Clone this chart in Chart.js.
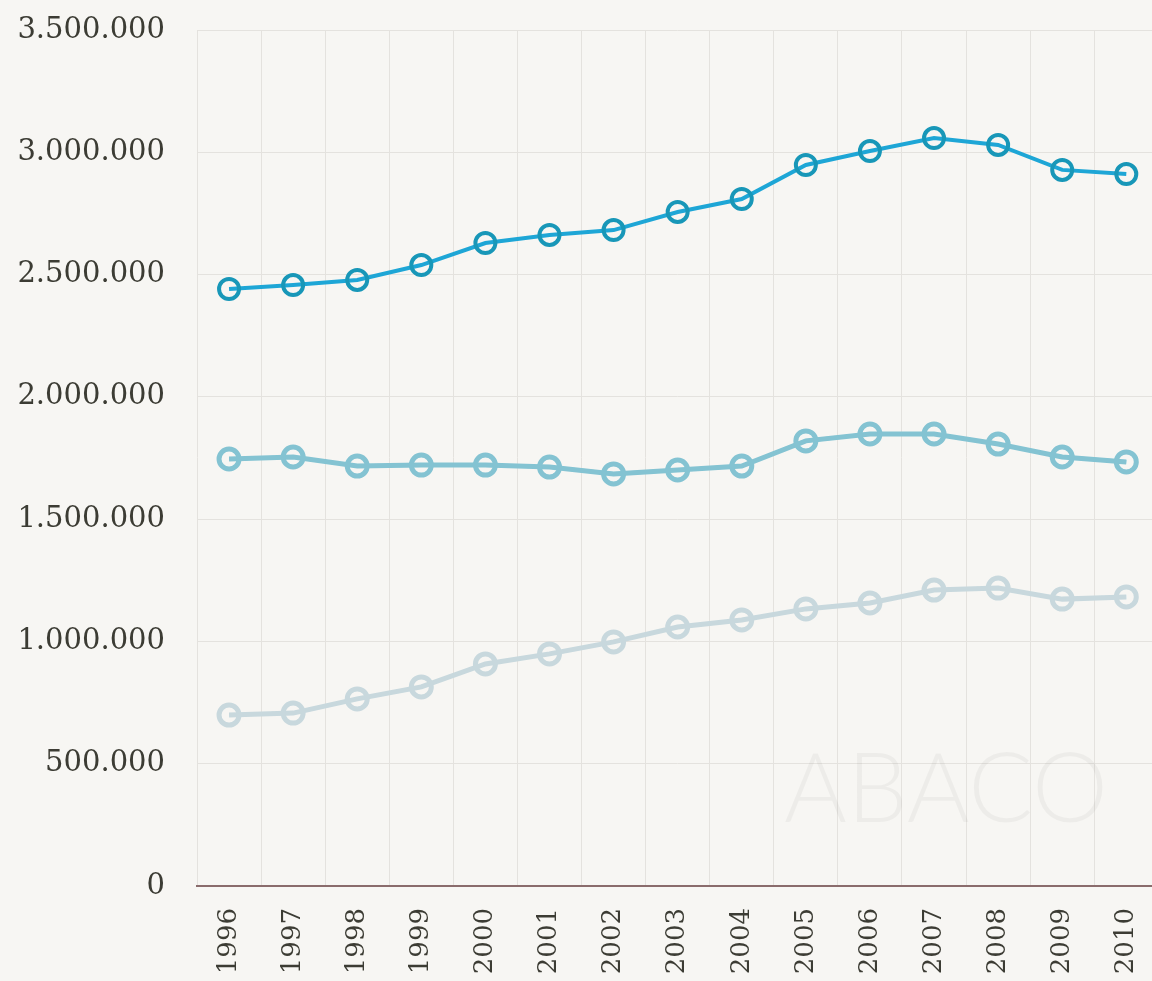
<!DOCTYPE html>
<html lang="pt">
<head>
    <meta charset="UTF-8">
    <title>Grafico</title>
    <script src="https://cdn.jsdelivr.net/npm/chart.js"></script>
    <style>
        html, body { margin: 0; padding: 0; background: #f7f6f3; overflow: hidden; }
        .caixa { width: 1180px; height: 981px; position: relative; }
    </style>
</head>
<body>
    <div class="caixa">
        <canvas id="grafico"></canvas>
    </div>
<script>
    // anos e séries
    const anos = ['1996', '1997', '1998', '1999', '2000', '2001', '2002', '2003', '2004', '2005', '2006', '2007', '2008', '2009', '2010'];
    const serieA = [2441000, 2457000, 2478000, 2539000, 2629000, 2662000, 2682000, 2756000, 2809000, 2948000, 3005000, 3058000, 3030000, 2928000, 2911000];
    const serieB = [1746000, 1754000, 1717000, 1721000, 1721000, 1713000, 1685000, 1701000, 1717000, 1820000, 1848000, 1848000, 1807000, 1754000, 1734000];
    const serieC = [699000, 707000, 765000, 814000, 908000, 949000, 998000, 1059000, 1088000, 1133000, 1157000, 1210000, 1218000, 1173000, 1182000];
    const ticksY = [0, 500000, 1000000, 1500000, 2000000, 2500000, 3000000, 3500000];

    function formata(v) {
        return String(v).replace(/\B(?=(\d{3})+(?!\d))/g, '.');
    }

    // linha com contorno: uma por baixo mais grossa, outra por cima
    function linha(dados, cor, larg, corPonto) {
        return {
            data: dados,
            borderColor: cor,
            borderWidth: larg,
            pointRadius: 10,
            pointHoverRadius: 10,
            pointBorderWidth: larg,
            pointBorderColor: corPonto || cor,
            pointBackgroundColor: 'rgba(0,0,0,0)',
            tension: 0
        };
    }

    const marcaDagua = {
        id: 'marcaDagua',
        beforeDatasetsDraw(chart) {
            const c = chart.ctx;
            c.save();
            c.font = '300 96px Lato';
            c.fillStyle = 'rgba(0,0,0,0.04)';
            c.textAlign = 'center';
            c.textBaseline = 'middle';
            c.fillText('ABACO', 946, 791);
            c.restore();
        }
    };

    new Chart(document.getElementById('grafico'), {
        type: 'line',
        data: {
            labels: anos,
            datasets: [
                linha(serieC, '#c8d8dd', 5),
                linha(serieC, '#d9eef6', 3.6),
                linha(serieB, '#84c3d2', 5),
                linha(serieB, '#90d2e3', 3.6),
                linha(serieA, '#1ea6d6', 4, '#1897b8')
            ]
        },
        options: {
            responsive: true,
            maintainAspectRatio: false,
            animation: false,
            layout: { padding: 0 },
            plugins: { legend: { display: false }, tooltip: { enabled: false } },
            scales: {
                x: {
                    offset: true,
                    grid: { offset: true, color: '#e4e2de', lineWidth: 1, drawTicks: false },
                    border: { color: '#8a6c6c', width: 2 },
                    ticks: {
                        minRotation: 90, maxRotation: 90, padding: 22,
                        color: '#3c3c34',
                        font: { family: 'DejaVu Serif', size: 26 }
                    },
                    afterFit(s) { s.height = 95; s.paddingTop = 0; }
                },
                y: {
                    min: 0,
                    max: 3500000,
                    afterBuildTicks(s) { s.ticks = ticksY.map(v => ({ value: v })); },
                    grid: { color: '#e4e2de', lineWidth: 1, drawTicks: false },
                    border: { display: false },
                    ticks: {
                        padding: 32,
                        color: '#3c3c34',
                        font: { family: 'DejaVu Serif', size: 29 },
                        callback: v => formata(v)
                    },
                    afterFit(s) { s.width = 197; s.paddingTop = 30; }
                }
            }
        },
        plugins: [marcaDagua]
    });
</script>
</body>
</html>
